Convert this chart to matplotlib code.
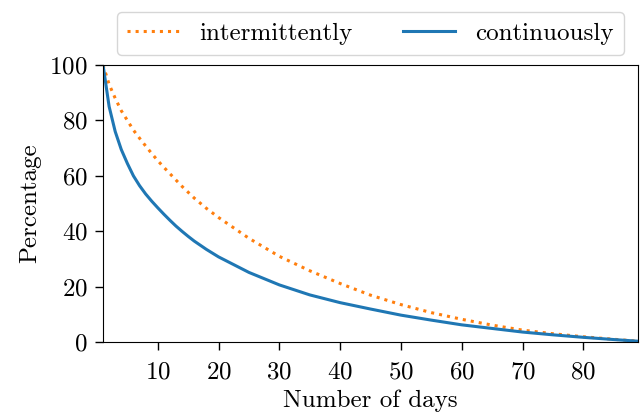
from matplotlib import pyplot as plt

plt.rcParams['font.family'] = 'serif'
plt.rcParams['font.serif'] = ['cmr10']
plt.rcParams['mathtext.fontset'] = 'cm'
plt.rcParams['axes.unicode_minus'] = False
plt.rcParams['axes.formatter.use_mathtext'] = True
plt.rcParams['font.size'] = 18

# values
days = [1, 2, 3, 4, 5, 6, 7, 8, 9, 10, 11, 12, 13, 14, 15, 16, 18, 20, 25,
        30, 35, 40, 45, 50, 55, 60, 65, 70, 75, 80, 85, 89]
intermittently = [100, 93, 88, 83.5, 80, 76.5, 73.6, 70.8, 68.1, 65.5, 63.1,
                  60.8, 58.5, 56.2, 54.1, 52, 48.3, 45, 37.5, 31, 25.8, 21.2,
                  17, 13.6, 10.7, 8.3, 6.2, 4.4, 3.1, 2.0, 1.1, 0.4]
continuously = [100, 85, 76, 69.5, 64.5, 60, 56.5, 53.5, 50.9, 48.5, 46.2,
                44, 41.9, 40, 38.2, 36.5, 33.5, 30.8, 25.2, 20.7, 17.1, 14.3,
                12, 9.8, 8, 6.3, 5, 3.7, 2.7, 1.8, 1.0, 0.4]
xticks = [10, 20, 30, 40, 50, 60, 70, 80]

fig = plt.figure(figsize=(6.4, 4.19), dpi=100)
ax = fig.add_axes([0.161, 0.183, 0.836, 0.662])

ax.plot(days, intermittently, ':', color='#ff7f0e', lw=2.2, label='intermittently')
ax.plot(days, continuously, '-', color='#1f77b4', lw=2.2, label='continuously')

ax.set_xlim(1, 89)
ax.set_ylim(0, 100)
ax.set_xticks(xticks)
ax.set_yticks([0, 20, 40, 60, 80, 100])
ax.tick_params(length=6, width=1.0, pad=5)
ax.tick_params(axis='x', pad=8)
ax.set_xlabel('Number of days', labelpad=4)
ax.set_ylabel('Percentage', labelpad=6)

ax.legend(loc='lower center', bbox_to_anchor=(0.5, 1.0), ncol=2,
          handlelength=2.1, columnspacing=2.0, frameon=True,
          borderaxespad=0.4)

fig.savefig('out.png', dpi=100)
